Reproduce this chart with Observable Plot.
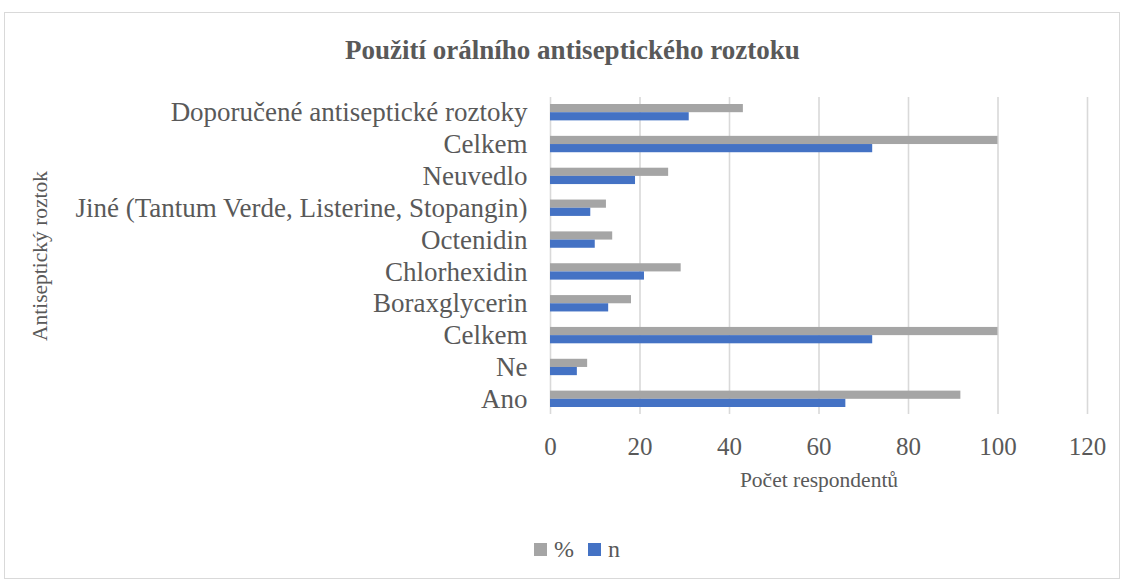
<!DOCTYPE html>
<html>
<head>
<meta charset="utf-8">
<script src="https://cdn.jsdelivr.net/npm/d3@7"></script>
<script src="https://cdn.jsdelivr.net/npm/@observablehq/plot@0.6"></script>
<style>
  html, body { margin: 0; padding: 0; background: #fff; }
  #wrap { position: relative; width: 1125px; height: 582px; font-family: "Liberation Serif", "Times New Roman", serif; color: #595959; overflow: hidden; }
  #border { position: absolute; left: 4px; top: 12px; width: 1116px; height: 567px; border: 1px solid #d9d9d9; box-sizing: border-box; }
  #title { position: absolute; left: 0; width: 1145px; top: 34px; text-align: center; font-weight: bold; font-size: 27px; line-height: 32px; }
  #chart { position: absolute; left: 0; top: 0; }
  #legend { position: absolute; left: 534px; top: 535px; font-size: 24px; line-height: 28px; display: flex; align-items: center; white-space: nowrap; }
  #legend .sw { display: inline-block; width: 13px; height: 13px; margin-right: 7px; }
  #legend .item { display: flex; align-items: center; margin-right: 14px; }
</style>
</head>
<body>
<div id="wrap">
  <div id="border"></div>
  <div id="title"></div>
  <div id="chart"></div>
  <div id="legend"></div>
</div>
<script>
// Data (bottom-to-top order as in the original chart)
const categories = [
  "Ano",
  "Ne",
  "Celkem",
  "Boraxglycerin",
  "Chlorhexidin",
  "Octenidin",
  "Jiné (Tantum Verde, Listerine, Stopangin)",
  "Neuvedlo",
  "Celkem",
  "Doporučené antiseptické roztoky"
];
const percentValues = [91.7, 8.3, 100, 18.1, 29.2, 13.9, 12.5, 26.4, 100, 43.1];
const nValues = [66, 6, 72, 13, 21, 10, 9, 19, 72, 31];
const seriesNames = ["%", "n"];
const seriesColors = ["#A5A5A5", "#4472C4"];
const xTicks = [0, 20, 40, 60, 80, 100, 120];
const title = "Použití orálního antiseptického roztoku";
const xLabel = "Počet respondentů";
const yLabel = "Antiseptický roztok";

// unique keys (there are two "Celkem" rows)
const keys = categories.map((c, i) => "k" + i);
const labelOf = new Map(keys.map((k, i) => [k, categories[i]]));
const rows = keys.map((k, i) => ({key: k, pct: percentValues[i], n: nValues[i]}));

const width = 1125, height = 500;
const marginTop = 97, marginBottom = 86, marginLeft = 550, marginRight = 38;
const pInner = 0.486, pOuter = 0.22;
const frameH = height - marginTop - marginBottom;
const step = frameH / (keys.length - pInner + 2 * pOuter);
const half = step * (1 - pInner) / 2;

const chart = Plot.plot({
  width, height, marginTop, marginBottom, marginLeft, marginRight,
  style: {fontFamily: "'Liberation Serif', 'Times New Roman', serif", color: "#595959", background: "transparent"},
  x: {domain: [0, 120], ticks: xTicks},
  y: {domain: keys.slice().reverse(), paddingInner: pInner, paddingOuter: pOuter, round: false},
  marks: [
    Plot.gridX(xTicks, {stroke: "#d9d9d9", strokeOpacity: 1, strokeWidth: 1.6}),
    Plot.barX(rows, {y: "key", x: "pct", fill: seriesColors[0], insetBottom: half}),
    Plot.barX(rows, {y: "key", x: "n", fill: seriesColors[1], insetTop: half}),
    Plot.axisX({ticks: xTicks, tickSize: 0, tickPadding: 23, fontSize: 25, label: null}),
    Plot.axisY({tickSize: 0, tickPadding: 23, fontSize: 27, label: null, tickFormat: (k) => labelOf.get(k)}),
    Plot.text([xLabel], {frameAnchor: "bottom", dy: 72, fontSize: 21.5, fill: "#595959"}),
    Plot.text([yLabel], {frameAnchor: "left", textAnchor: "middle", dx: -510, rotate: -90, fontSize: 21.5, fill: "#595959"})
  ]
});
document.getElementById("chart").appendChild(chart);
document.getElementById("title").textContent = title;
const legend = document.getElementById("legend");
seriesNames.forEach((s, i) => {
  const item = document.createElement("span");
  item.className = "item";
  const sw = document.createElement("span");
  sw.className = "sw";
  sw.style.background = seriesColors[i];
  item.appendChild(sw);
  item.appendChild(document.createTextNode(s));
  legend.appendChild(item);
});
</script>
</body>
</html>
